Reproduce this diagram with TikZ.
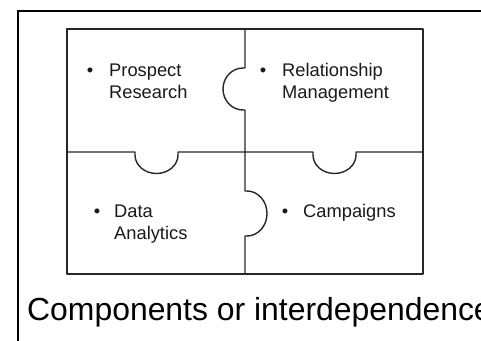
\documentclass[tikz,border=0pt]{standalone}
\usepackage{fontspec}
\setmainfont{Liberation Sans}
\begin{document}
\begin{tikzpicture}[x=1pt,y=1pt,
  piece/.style={draw=black!85, line width=1.4pt, line join=round},
  label/.style={inner sep=0pt, anchor=base west, align=left, text=black!90,
    font=\fontsize{18.3}{22}\selectfont},
  bulletmark/.style={inner sep=0pt, anchor=base, text=black!90,
    font=\fontsize{18.3}{22}\selectfont},
  caption/.style={inner sep=0pt, anchor=base west, text=black,
    font=\fontsize{31.9}{36}\selectfont}]
\useasboundingbox (0,0) rectangle (481,-340);
\clip (0,0) rectangle (481,-340);
% outer frame
\draw[line width=2pt, black] (18,-360) -- (18,-11) -- (500,-11);
% puzzle outline
\draw[piece] (67,-29) rectangle (423,-274);
% vertical seam with tabs
\draw[piece] (245,-29) -- (245,-68) -- (243,-68) arc[start angle=90, end angle=270, x radius=20, y radius=21]
  -- (245,-110) -- (245,-191) -- (247,-191) arc[start angle=90, end angle=-90, x radius=20, y radius=22.5]
  -- (245,-236) -- (245,-274);
% horizontal seam with tabs
\draw[piece] (67,-152) -- (135,-152) -- (135,-155) arc[start angle=180, end angle=360, x radius=21.5, y radius=18.5]
  -- (178,-152) -- (313,-152) -- (313,-155) arc[start angle=180, end angle=360, x radius=21.5, y radius=18.5]
  -- (356,-152) -- (423,-152);
% texts (base anchor = baseline of last line)
\node[bulletmark] (b1) at (90,-76) {•};
\node[label] (t1) at (109,-98) {Prospect\\Research};
\node[bulletmark] (b2) at (263,-76) {•};
\node[label] (t2) at (282,-98) {Relationship\\Management};
\node[bulletmark] (b3) at (97,-217) {•};
\node[label] (t3) at (114,-239) {Data\\Analytics};
\node[bulletmark] (b4) at (285,-217) {•};
\node[label] (t4) at (303,-217) {Campaigns};
\node[caption] (cap) at (27,-320) {Components or interdependence};
\end{tikzpicture}
\end{document}
